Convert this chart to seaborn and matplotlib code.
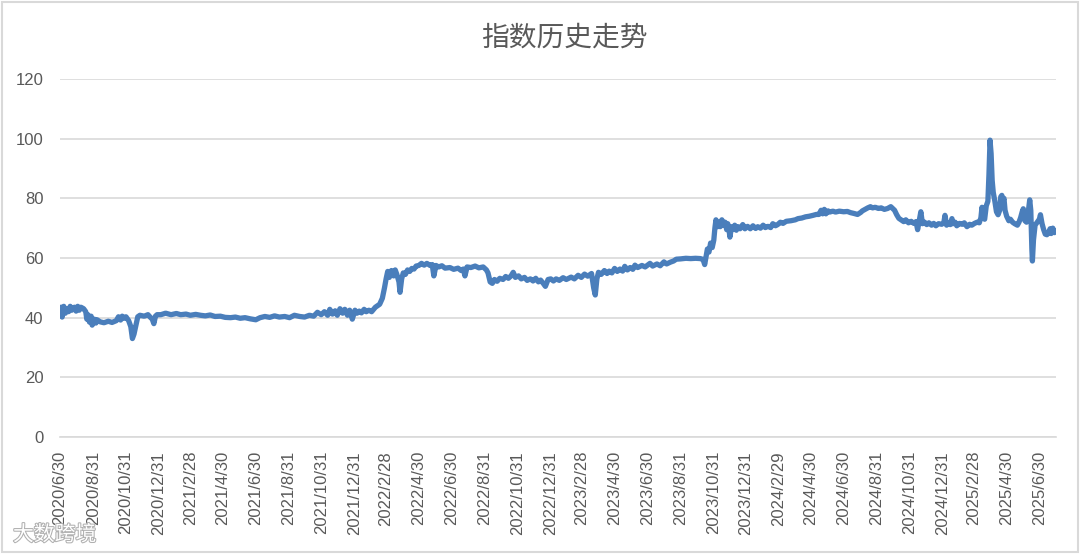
import pandas as pd
import matplotlib
matplotlib.use("Agg")
import matplotlib.pyplot as plt
import matplotlib.patheffects as pe
import seaborn as sns

# index values, one pair of lists per year (dates are approximate)
days_2020 = ["06-30", "07-02", "07-04", "07-07", "07-10", "07-13", "07-16", "07-19", "07-22",
             "07-27", "07-30", "08-02", "08-05", "08-08", "08-13", "08-17", "08-19", "08-21",
             "08-24", "08-27", "08-29", "09-02", "09-05", "09-07", "09-13", "09-20", "09-28",
             "10-05", "10-13", "10-17", "10-21", "10-24", "10-28", "10-31", "11-05", "11-09",
             "11-12", "11-15", "11-18", "11-22", "11-26", "12-04", "12-11", "12-15", "12-19",
             "12-22", "12-25", "12-28"]
vals_2020 = [41.0, 43.5, 40.2, 43.8, 41.5, 43.0, 42.0, 43.8, 42.5,
             43.5, 42.2, 43.8, 42.5, 43.5, 43.0, 42.0, 39.5, 41.0,
             38.5, 40.5, 37.5, 39.5, 38.2, 39.3, 38.6, 38.3, 38.8,
             38.4, 39.0, 40.3, 39.2, 40.5, 39.8, 40.3, 39.0, 37.0,
             33.0, 34.5, 37.0, 40.3, 40.8, 40.5, 41.0, 40.2, 39.5,
             38.0, 40.5, 41.0]

days_2021 = ["01-04", "01-13", "01-23", "02-02", "02-10", "02-20", "02-28", "03-10", "03-19",
             "03-28", "04-06", "04-15", "04-25", "05-04", "05-14", "05-23", "06-01", "06-10",
             "06-20", "06-30", "07-08", "07-17", "07-26", "08-04", "08-13", "08-23", "09-01",
             "09-10", "09-20", "09-29", "10-08", "10-16", "10-23", "10-30", "11-05", "11-11",
             "11-15", "11-20", "11-25", "11-29", "12-04", "12-09", "12-13", "12-18", "12-22",
             "12-27"]
vals_2021 = [41.0, 41.5, 41.0, 41.4, 41.0, 41.2, 40.8, 41.1, 40.8,
             40.6, 40.9, 40.4, 40.5, 40.1, 40.0, 40.2, 39.8, 40.0,
             39.6, 39.3, 40.0, 40.4, 40.1, 40.6, 40.2, 40.4, 40.0,
             40.8, 40.4, 40.2, 40.8, 40.5, 41.8, 41.0, 42.0, 40.8,
             42.8, 41.2, 42.3, 40.8, 43.0, 41.5, 42.8, 40.8, 42.5,
             39.5]

days_2022 = ["01-01", "01-05", "01-09", "01-13", "01-18", "01-22", "01-27", "02-01", "02-08",
             "02-16", "02-21", "02-25", "02-28", "03-03", "03-06", "03-10", "03-14", "03-17",
             "03-20", "03-24", "03-26", "03-29", "04-01", "04-05", "04-09", "04-13", "04-17",
             "04-21", "04-25", "04-30", "05-05", "05-10", "05-15", "05-21", "05-25", "05-28",
             "06-01", "06-06", "06-12", "06-18", "06-27", "07-04", "07-12", "07-18", "07-22",
             "07-25", "07-29", "08-05", "08-13", "08-20", "08-28", "09-03", "09-06", "09-10",
             "09-14", "09-18", "09-23", "09-28", "10-04", "10-09", "10-14", "10-19", "10-23",
             "10-27", "11-02", "11-07", "11-13", "11-18", "11-24", "11-29", "12-04", "12-09",
             "12-13", "12-18", "12-22", "12-27"]
vals_2022 = [42.5, 41.5, 42.2, 41.6, 42.8, 42.0, 42.5, 42.0, 43.5,
             44.5, 46.5, 50.0, 53.0, 55.5, 53.5, 55.8, 54.0, 56.0,
             54.5, 52.0, 48.5, 53.0, 55.0, 54.5, 56.0, 55.5, 56.5,
             56.3, 57.3, 57.5, 58.2, 57.6, 58.2, 57.5, 57.8, 54.0,
             57.5, 57.0, 57.4, 56.6, 56.8, 56.2, 56.6, 55.8, 56.3,
             54.0, 57.0, 56.8, 57.3, 56.7, 57.0, 56.0, 55.0, 52.0,
             51.5, 52.8, 52.2, 53.2, 52.8, 53.8, 53.2, 54.0, 55.2,
             53.5, 54.0, 53.0, 53.5, 52.5, 53.0, 52.3, 53.2, 52.0,
             52.6, 51.5, 50.5, 52.8]

days_2023 = ["01-01", "01-06", "01-11", "01-17", "01-24", "01-30", "02-08", "02-14", "02-21",
             "02-27", "03-05", "03-11", "03-18", "03-22", "03-25", "03-28", "03-31", "04-05",
             "04-11", "04-16", "04-20", "04-25", "04-30", "05-05", "05-10", "05-15", "05-19",
             "05-24", "05-29", "06-03", "06-07", "06-12", "06-20", "06-26", "07-05", "07-10",
             "07-18", "07-24", "07-31", "08-05", "08-12", "08-18", "08-23", "08-31", "09-10",
             "09-19", "09-28", "10-07", "10-12", "10-15", "10-18", "10-20", "10-23", "10-26",
             "10-29", "11-01", "11-03", "11-05", "11-08", "11-10", "11-13", "11-16", "11-19",
             "11-22", "11-25", "11-27", "11-29", "12-01", "12-04", "12-06", "12-10", "12-13",
             "12-16", "12-20", "12-25", "12-29"]
vals_2023 = [53.0, 52.3, 53.0, 52.5, 53.4, 52.8, 53.6, 53.0, 54.2,
             53.5, 54.6, 53.9, 54.8, 50.0, 47.6, 53.0, 55.2, 54.5,
             55.8, 54.8, 55.6, 55.0, 56.5, 55.5, 56.3, 55.6, 57.2,
             56.0, 56.8, 56.2, 57.6, 56.8, 57.5, 57.0, 58.2, 57.3,
             58.0, 57.4, 58.7, 58.0, 58.6, 59.0, 59.6, 59.7, 59.9,
             59.8, 59.9, 59.8, 59.5, 57.8, 61.0, 63.0, 62.0, 65.0,
             63.5, 66.0, 70.0, 72.8, 70.5, 72.0, 70.5, 72.8, 71.0,
             72.0, 69.5, 71.5, 70.0, 67.0, 70.5, 69.5, 71.0, 69.3,
             70.5, 69.8, 71.2, 69.8]

days_2024 = ["01-03", "01-08", "01-13", "01-18", "01-22", "01-27", "02-01", "02-05", "02-10",
             "02-15", "02-19", "02-24", "02-28", "03-04", "03-09", "03-15", "03-24", "04-01",
             "04-06", "04-13", "04-20", "04-27", "05-04", "05-10", "05-15", "05-19", "05-22",
             "05-25", "05-28", "06-01", "06-04", "06-10", "06-15", "06-22", "06-30", "07-07",
             "07-13", "07-20", "07-26", "08-01", "08-04", "08-09", "08-14", "08-19", "08-23",
             "08-28", "09-03", "09-08", "09-14", "09-20", "09-26", "09-30", "10-03", "10-07",
             "10-11", "10-15", "10-20", "10-24", "10-29", "11-03", "11-08", "11-12", "11-15",
             "11-18", "11-21", "11-24", "11-28", "12-02", "12-06", "12-11", "12-15", "12-19",
             "12-24", "12-30"]
vals_2024 = [70.6, 69.8, 70.8, 69.9, 70.5, 70.0, 71.0, 70.2, 70.6,
             70.2, 71.5, 70.8, 71.2, 72.0, 71.6, 72.3, 72.5, 72.8,
             73.2, 73.4, 73.8, 74.0, 74.3, 74.6, 74.6, 76.0, 74.8,
             76.3, 74.8, 75.8, 75.4, 75.7, 75.4, 75.7, 75.5, 75.6,
             75.2, 74.9, 74.6, 75.3, 75.8, 76.3, 76.8, 77.2, 76.8,
             77.0, 76.6, 76.8, 76.3, 76.6, 77.2, 76.5, 76.0, 74.5,
             73.3, 72.8, 72.2, 72.8, 71.8, 72.3, 71.6, 72.2, 69.5,
             72.5, 75.5, 71.5, 72.0, 71.2, 71.8, 71.0, 71.6, 70.8,
             71.5, 71.3]

days_2025 = ["01-03", "01-05", "01-08", "01-11", "01-15", "01-18", "01-20", "01-24", "01-27",
             "02-01", "02-06", "02-10", "02-15", "02-20", "02-24", "03-01", "03-06", "03-10",
             "03-13", "03-15", "03-17", "03-20", "03-23", "03-26", "03-28", "03-30", "04-01",
             "04-03", "04-05", "04-08", "04-11", "04-14", "04-17", "04-19", "04-21", "04-23",
             "04-25", "04-27", "04-30", "05-04", "05-07", "05-11", "05-15", "05-20", "05-23",
             "05-26", "05-29", "05-31", "06-03", "06-06", "06-09", "06-12", "06-14", "06-16",
             "06-17", "06-19", "06-22", "06-26", "06-30", "07-02", "07-05", "07-08", "07-11",
             "07-14", "07-17", "07-20", "07-22", "07-25", "07-28", "07-30"]
vals_2025 = [72.0, 74.3, 71.0, 71.8, 71.2, 73.2, 71.5, 72.0, 70.8,
             71.6, 71.3, 71.8, 70.5, 71.3, 71.0, 71.6, 72.0, 71.8,
             73.5, 77.0, 74.0, 73.0, 77.5, 79.0, 88.0, 99.5, 95.0,
             86.0, 82.0, 79.0, 75.5, 74.5, 76.0, 80.5, 81.0, 79.0,
             80.0, 76.0, 74.0, 72.5, 73.0, 72.0, 71.5, 71.0, 72.0,
             73.5, 75.5, 76.5, 72.5, 72.0, 75.0, 79.5, 76.0, 63.0,
             59.0, 66.0, 71.0, 72.0, 73.0, 74.5, 71.5, 69.5, 68.0,
             67.8, 68.5, 69.8, 68.2, 70.0, 68.5, 69.0]

tick_labels = [
    "2020/6/30", "2020/8/31", "2020/10/31", "2020/12/31", "2021/2/28", "2021/4/30",
    "2021/6/30", "2021/8/31", "2021/10/31", "2021/12/31", "2022/2/28", "2022/4/30",
    "2022/6/30", "2022/8/31", "2022/10/31", "2022/12/31", "2023/2/28", "2023/4/30",
    "2023/6/30", "2023/8/31", "2023/10/31", "2023/12/31", "2024/2/29", "2024/4/30",
    "2024/6/30", "2024/8/31", "2024/10/31", "2024/12/31", "2025/2/28", "2025/4/30",
    "2025/6/30",
]
y_ticks = [0, 20, 40, 60, 80, 100, 120]

years = {
    2020: (days_2020, vals_2020), 2021: (days_2021, vals_2021), 2022: (days_2022, vals_2022),
    2023: (days_2023, vals_2023), 2024: (days_2024, vals_2024), 2025: (days_2025, vals_2025),
}
frames = []
for yr, (d, v) in years.items():
    frames.append(pd.DataFrame({"date": pd.to_datetime([f"{yr}-{x}" for x in d]), "value": v}))
df = pd.concat(frames, ignore_index=True)

sns.set_style("white")
plt.rcParams["font.family"] = ["Liberation Sans", "Noto Sans CJK SC", "DejaVu Sans"]

fig = plt.figure(figsize=(10.8, 5.54), dpi=100)
ax = fig.add_axes([60 / 1080, 117 / 554, 996 / 1080, 358 / 554])

grid_c = "#d9d9d9"
text_c = "#595959"

sns.lineplot(data=df, x="date", y="value", ax=ax, color="#4a7ebb",
             linewidth=3.8, solid_joinstyle="round", solid_capstyle="round")

ax.set_ylim(0, 120)
ax.set_yticks(y_ticks)
ax.set_xlim(pd.Timestamp("2020-06-30"), pd.Timestamp("2025-07-31"))
ax.set_xticks(pd.to_datetime(tick_labels, format="%Y/%m/%d"))
ax.set_xticklabels(tick_labels, rotation=90)

ax.yaxis.grid(True, color=grid_c, linewidth=1.2)
ax.set_axisbelow(True)
for side in ["top", "right", "left"]:
    ax.spines[side].set_visible(False)
ax.spines["bottom"].set_color(grid_c)
ax.spines["bottom"].set_linewidth(1.2)

ax.tick_params(axis="x", length=4, width=1, color=grid_c, pad=6,
               labelsize=12, labelcolor=text_c)
ax.tick_params(axis="y", length=0, pad=12, labelsize=12, labelcolor=text_c)
ax.set_xlabel("")
ax.set_ylabel("")

fig.text(0.523, 0.933, "指数历史走势", ha="center", va="center",
         fontsize=20, color=text_c, family=["Noto Sans CJK SC", "DejaVu Sans"])

# watermark at bottom left
fig.text(0.012, 0.035, "大数跨境", ha="left", va="center", fontsize=15,
         color="white", family=["Noto Sans CJK SC", "DejaVu Sans"],
         path_effects=[pe.withStroke(linewidth=1.5, foreground="#b0b0b0")])

# chart area border
fig.patches.append(plt.Rectangle((0.002, 0.003), 0.996, 0.994, transform=fig.transFigure,
                                 fill=False, edgecolor=grid_c, linewidth=1.5))

fig.savefig("out.png", dpi=100, facecolor="white")
